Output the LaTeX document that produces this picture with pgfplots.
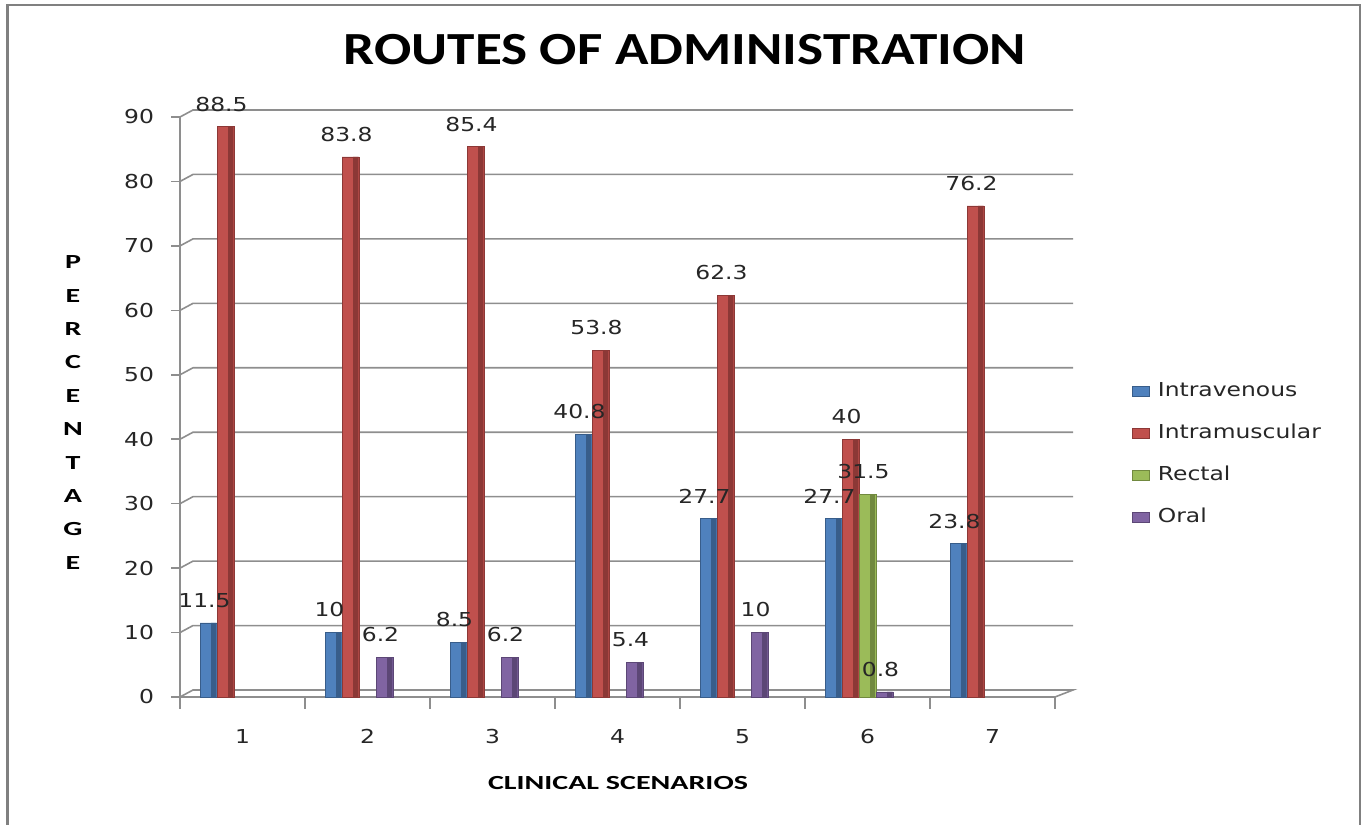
\documentclass[border=0pt]{standalone}
\usepackage{fontspec}
\setmainfont{DejaVu Sans}[FakeStretch=1.22]
\newfontfamily\titlefont{Carlito}[FakeStretch=1.2]
\newfontfamily\labfont{Carlito}[FakeStretch=1.5]
\usepackage{pgfplots}
\pgfplotsset{compat=1.18}
\definecolor{ivc}{HTML}{4F81BD}\definecolor{ivd}{HTML}{385D8A}
\definecolor{imc}{HTML}{C0504D}\definecolor{imd}{HTML}{8C3836}
\definecolor{rec}{HTML}{9BBB59}\definecolor{red2}{HTML}{71893F}
\definecolor{orc}{HTML}{8064A2}\definecolor{ord}{HTML}{5C4776}
\definecolor{gridc}{HTML}{8E8E8E}
\pgfplotsset{
  my legend/.style={legend image code/.code={\fill[##1] (0pt,-2.6pt) rectangle (8.5pt,2.6pt);}},
  labels/.style={nodes near coords,
    every node near coord/.append style={font=\fontsize{9.6}{11}\selectfont, anchor=south, inner sep=0pt, yshift=7.5pt, xshift=-2pt, text=black!85}},
  strip/.style={forget plot, fill=#1, draw=none, bar width=2.6pt},
}
\begin{document}
\begin{tikzpicture}
\path[use as bounding box] (0,0) rectangle (683.5pt,412.5pt);
\draw[black!50,line width=1.2pt] (3.75pt,0) -- (3.75pt,410pt) -- (680pt,410pt) -- (680pt,0);
\node[font=\titlefont\bfseries\fontsize{23}{26}\selectfont] at (342.5pt,387.5pt) {ROUTES OF ADMINISTRATION};
\node[font=\labfont\bfseries\fontsize{10}{16.7}\selectfont, align=center] at (36.5pt,206.25pt) {P\\E\\R\\C\\E\\N\\T\\A\\G\\E};
\node[font=\labfont\bfseries\fontsize{10}{12}\selectfont] at (309pt,21pt) {CLINICAL SCENARIOS};
\begin{axis}[
  at={(90pt,64pt)}, anchor=south west, scale only axis,
  width=437.5pt, height=290pt,
  xmin=0.5, xmax=7.5, ymin=0, ymax=90,
  clip=false,
  ytick={0,10,...,90},
  xtick={1,...,7},
  minor xtick={0.5,1.5,...,7.5},
  major x tick style={draw=none},
  axis x line*=bottom, axis y line*=left,
  axis line style={-, gridc, line width=0.8pt},
  tick style={gridc, line width=0.8pt},
  tick align=outside,
  major tick length=4.5pt, minor tick length=6pt,
  ybar, bar width=8.5pt,
  /pgf/number format/assume math mode=true,
  ticklabel style={font=\fontsize{9.6}{11}\selectfont, text=black!85},
  yticklabel style={xshift=-5pt},
  xticklabel style={yshift=-8pt},
  legend style={at={(1.081,0.418)}, anchor=west, draw=none, fill=none,
    font=\fontsize{9.6}{11}\selectfont, text=black!85,
    nodes={inner sep=0pt, text height=7pt, text depth=2pt},
    row sep=12pt,
    /tikz/every odd column/.append style={column sep=4pt}},
  legend cell align=left,
]
\pgfplotsinvokeforeach{10,20,...,90}{
  \draw[gridc, line width=0.8pt] (axis cs:0.5,#1) -- ++(6.5pt,3.5pt) -- ([xshift=9pt,yshift=3.5pt]axis cs:7.5,#1);
}
\draw[gridc, line width=0.8pt] (axis cs:0.5,0) -- ++(6.5pt,3.5pt) -- ([xshift=9pt,yshift=3.5pt]axis cs:7.5,0) -- (axis cs:7.5,0);
\addplot[my legend, labels, fill=ivc, draw=ivd, line width=0.3pt, bar shift=-17pt]
  coordinates {(1,11.5) (2,10) (3,8.5) (4,40.8) (5,27.7) (6,27.7) (7,23.8)};
\addlegendentry{Intravenous}
\addplot[my legend, labels, fill=imc, draw=imd, line width=0.3pt, bar shift=-8.5pt]
  coordinates {(1,88.5) (2,83.8) (3,85.4) (4,53.8) (5,62.3) (6,40) (7,76.2)};
\addlegendentry{Intramuscular}
\addplot[my legend, labels, fill=rec, draw=red2, line width=0.3pt, bar shift=0pt]
  coordinates {(6,31.5)};
\addlegendentry{Rectal}
\addplot[my legend, labels, fill=orc, draw=ord, line width=0.3pt, bar shift=8.5pt]
  coordinates {(2,6.2) (3,6.2) (4,5.4) (5,10) (6,0.8)};
\addlegendentry{Oral}
\addplot[strip=ivd, bar shift=-14.35pt]
  coordinates {(1,11.5) (2,10) (3,8.5) (4,40.8) (5,27.7) (6,27.7) (7,23.8)};
\addplot[strip=imd, bar shift=-5.85pt]
  coordinates {(1,88.5) (2,83.8) (3,85.4) (4,53.8) (5,62.3) (6,40) (7,76.2)};
\addplot[strip=red2, bar shift=2.65pt]
  coordinates {(6,31.5)};
\addplot[strip=ord, bar shift=11.15pt]
  coordinates {(2,6.2) (3,6.2) (4,5.4) (5,10) (6,0.8)};
\end{axis}
\end{tikzpicture}
\end{document}
